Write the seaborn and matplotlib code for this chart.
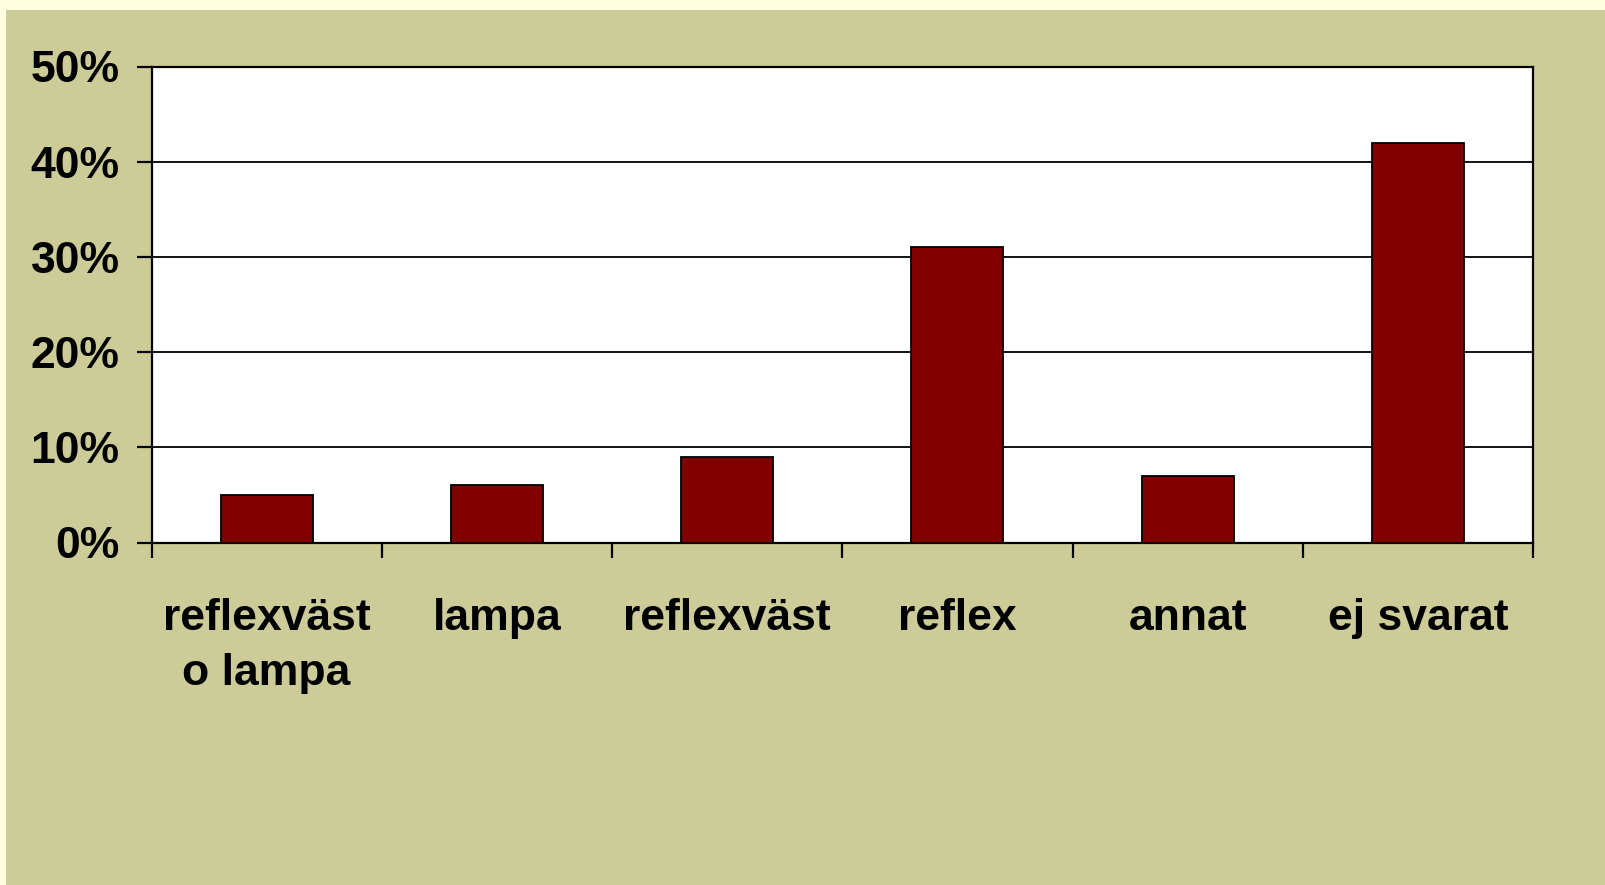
import matplotlib
matplotlib.use("Agg")
import matplotlib.pyplot as plt
import seaborn as sns
import pandas as pd
from matplotlib.patches import Rectangle
from matplotlib.ticker import FixedLocator, PercentFormatter

categories = ["reflexväst\no lampa", "lampa", "reflexväst", "reflex", "annat", "ej svarat"]
values = [5, 6, 9, 31, 7, 42]
y_ticks = [0, 10, 20, 30, 40, 50]

sns.set_theme(style="white")
plt.rcParams["font.family"] = ["Liberation Sans", "DejaVu Sans"]

fig = plt.figure(figsize=(16.05, 8.85), dpi=100, facecolor="#FFFFE0")
fig.patches.append(Rectangle((6 / 1605, 0), 1 - 6 / 1605, 1 - 10 / 885,
                             transform=fig.transFigure, facecolor="#CCCC99",
                             edgecolor="none", zorder=-10))

ax = fig.add_axes([151.5 / 1605, 1 - 542.5 / 885, (1533 - 151.5) / 1605, (542.5 - 66.5) / 885])
ax.set_zorder(5)
ax.set_facecolor("white")

df = pd.DataFrame({"cat": categories, "val": values})
sns.barplot(data=df, x="cat", y="val", color="#800000", saturation=1, width=0.4,
            edgecolor="black", linewidth=1.3, ax=ax, zorder=3)

ax.set_xlim(-0.5, len(categories) - 0.5)
ax.set_ylim(0, 50)
ax.yaxis.set_major_locator(FixedLocator(y_ticks))
ax.yaxis.set_major_formatter(PercentFormatter(decimals=0))
ax.grid(axis="y", color="black", linewidth=1.3, zorder=1)
ax.set_axisbelow(True)

for s in ax.spines.values():
    s.set_visible(True)
    s.set_color("black")
    s.set_linewidth(1.6)

ax.xaxis.set_minor_locator(FixedLocator([i - 0.5 for i in range(len(categories) + 1)]))
ax.tick_params(axis="x", which="major", length=0, pad=40)
ax.tick_params(axis="x", which="minor", length=11, width=1.6, color="black", direction="out", bottom=True)
ax.tick_params(axis="y", which="major", length=11, width=1.6, color="black", direction="out", left=True, pad=12)

for lbl in ax.get_xticklabels():
    lbl.set_fontsize(32)
    lbl.set_fontweight("bold")
    lbl.set_color("black")
    lbl.set_linespacing(1.45)
    lbl.set_verticalalignment("top")
for lbl in ax.get_yticklabels():
    lbl.set_fontsize(32)
    lbl.set_fontweight("bold")
    lbl.set_color("black")

ax.set_xlabel("")
ax.set_ylabel("")

fig.savefig("out.png", dpi=100, facecolor=fig.get_facecolor())
